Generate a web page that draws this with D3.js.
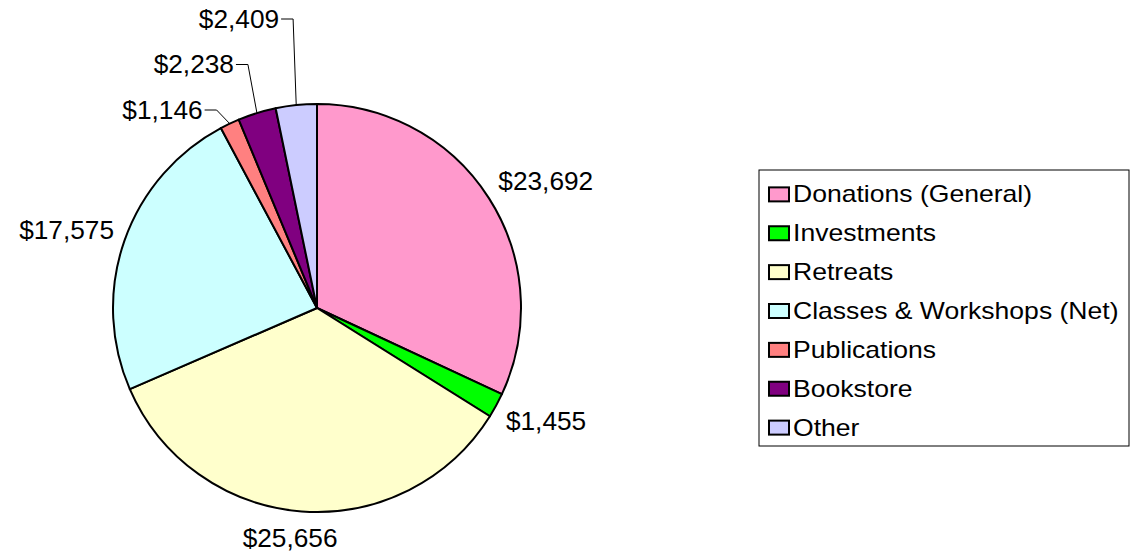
<!DOCTYPE html>
<html>
<head>
<meta charset="utf-8">
<script src="https://cdn.jsdelivr.net/npm/d3@7"></script>
<style>
  body { margin: 0; background: #fff; }
  svg { display: block; font-family: Arial, "Liberation Sans", sans-serif; }
</style>
</head>
<body>
<svg id="chart" width="1131" height="557"></svg>
<script>
// data
var categories = ["Donations (General)", "Investments", "Retreats", "Classes & Workshops (Net)", "Publications", "Bookstore", "Other"];
var values = [23692, 1455, 25656, 17575, 1146, 2238, 2409];
var colors = ["#FF99CC", "#00FF00", "#FFFFCC", "#CCFFFF", "#FF8080", "#800080", "#CCCCFF"];

var svg = d3.select("#chart");
var cx = 317, cy = 308, r = 204;
var labelSize = 25, labelStretch = 1.05;
var legendSize = 23, legendStretch = 1.155;

var dat = categories.map(function(c, i) { return {key: c, value: values[i], color: colors[i], idx: i}; });

var pie = d3.pie().sort(null).value(function(d) { return d.value; });
var arc = d3.arc().innerRadius(0).outerRadius(r);
var arcs = pie(dat);

var g = svg.append("g").attr("transform", "translate(" + cx + "," + cy + ")");

g.selectAll("path.slice")
  .data(arcs)
  .enter().append("path")
    .attr("class", "slice")
    .attr("d", arc)
    .style("fill", function(d) { return d.data.color; })
    .style("stroke", "#000")
    .style("stroke-width", 2)
    .style("stroke-linejoin", "round");

var fmt = function(v) { return "$" + d3.format(",")(v); };

// text slightly wider than the local font, like the original
function stretchedText(parent, x, y, size, k, anchor, str) {
  return parent.append("text")
    .attr("transform", "translate(" + x + "," + y + ") scale(" + k + ",1)")
    .attr("dy", "0.35em")
    .attr("text-anchor", anchor)
    .style("font-size", size + "px")
    .text(str);
}

// labels
var clamp = function(v) { return Math.max(-1, Math.min(1, v)); };
var total = d3.sum(values);
var smallCount = 0;
arcs.forEach(function(d) {
  var a = (d.startAngle + d.endAngle) / 2;
  var s = Math.sin(a), c = -Math.cos(a);
  if (d.data.value / total < 0.04 && a > Math.PI) {
    // small slices on upper left: stacked labels with leader lines
    var ex = r * s, ey = r * c;
    var ly = -r + 6 - smallCount * 45.5;
    var bx = ex * 1.15;
    g.append("polyline")
      .attr("points", [[ex, ey], [bx, ly], [bx - 12, ly]].map(function(p) { return p.join(","); }).join(" "))
      .style("fill", "none")
      .style("stroke", "#000")
      .style("stroke-width", 1);
    stretchedText(g, bx - 14, ly, labelSize, labelStretch, "end", fmt(d.data.value));
    smallCount++;
  } else {
    var px = (r + 11) * s, py = (r + 14) * c;
    var t = stretchedText(g, 0, 0, labelSize, labelStretch, "middle", fmt(d.data.value));
    var w = t.node().getComputedTextLength() * labelStretch, h = labelSize;
    t.attr("transform", "translate(" + (px + (w / 2) * clamp(s * 3)) + "," + (py + (h / 2) * clamp(c * 1.5)) + ") scale(" + labelStretch + ",1)");
  }
});

// legend
var lx = 759, ly0 = 170, lw = 370, lh = 276;
var legend = svg.append("g").attr("transform", "translate(" + lx + "," + ly0 + ")");
legend.append("rect")
  .attr("width", lw).attr("height", lh)
  .style("fill", "#fff").style("stroke", "#000").style("stroke-width", 1);

var row = d3.scaleBand().domain(categories).range([3, lh + 3]).paddingOuter(0.05);

var items = legend.selectAll("g.item")
  .data(dat)
  .enter().append("g")
    .attr("class", "item")
    .attr("transform", function(d) { return "translate(0," + (row(d.key) + row.bandwidth() / 2) + ")"; });

items.append("rect")
  .attr("x", 10).attr("y", -7)
  .attr("width", 20).attr("height", 14)
  .style("fill", function(d) { return d.color; })
  .style("stroke", "#000").style("stroke-width", 2);

items.each(function(d) {
  stretchedText(d3.select(this), 34, 0, legendSize, legendStretch, "start", d.key);
});
</script>
</body>
</html>
